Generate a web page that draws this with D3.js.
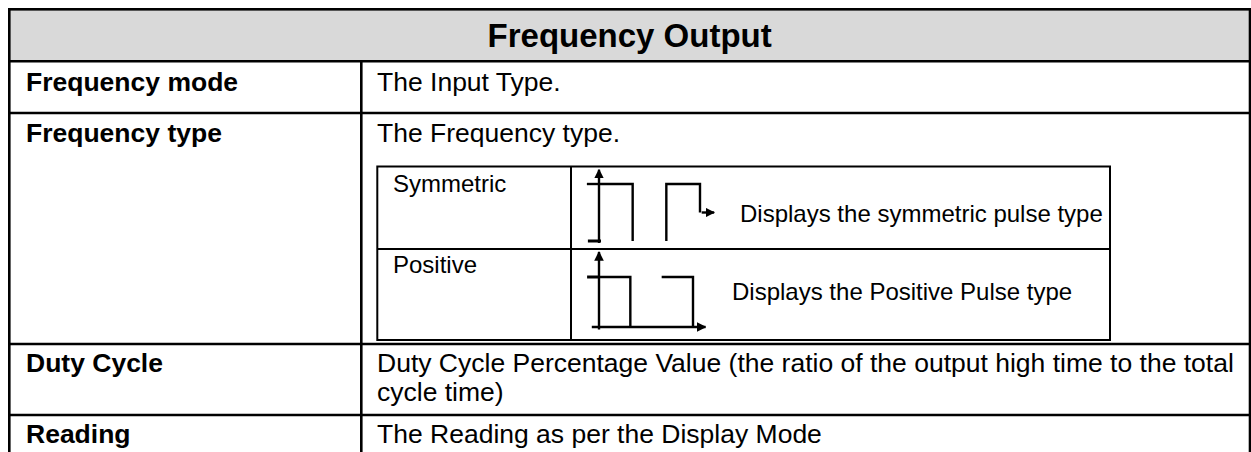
<!DOCTYPE html>
<html>
<head>
<meta charset="utf-8">
<script src="https://cdn.jsdelivr.net/npm/d3@7"></script>
<style>
  html, body { margin: 0; padding: 0; background: #ffffff; }
  svg { display: block; }
  text { font-family: "Liberation Sans", Arial, sans-serif; fill: #000; }
</style>
</head>
<body>
<script>
// ---------- data ----------
const title = "Frequency Output";
const rowLabels = ["Frequency mode", "Frequency type", "Duty Cycle", "Reading"];
const rowDescriptions = [
  ["The Input Type."],
  ["The Frequency type."],
  ["Duty Cycle Percentage Value (the ratio of the output high time to the total", "cycle time)"],
  ["The Reading as per the Display Mode"]
];
const pulseTypes = ["Symmetric", "Positive"];
const pulseDescriptions = ["Displays the symmetric pulse type", "Displays the Positive Pulse type"];

// waveform segments: [time, level]
const symmetricWave = [
  [[0, 1], [1, 1], [1, -1]],
  [[2, -1], [2, 1], [3, 1], [3, 0]]
];
const positiveWave = [
  [[0, 1], [1, 1], [1, 0]],
  [[2, 1], [3, 1], [3, 0]]
];

// ---------- layout ----------
const W = 1251, H = 452;
const svg = d3.select("body").append("svg").attr("width", W).attr("height", H);

const outer = { left: 9.3, right: 1250, top: 9.3, bottom: 470 };
const colX = 361.3;
const rowY = [61.2, 113, 344, 415];     // header bottom and row separators
const labelBaselines = [91, 142, 372, 443];
const descBaselines = [[91], [142], [372, 401], [443]];

// header fill
svg.append("rect")
  .attr("x", outer.left).attr("y", outer.top)
  .attr("width", outer.right - outer.left).attr("height", rowY[0] - outer.top)
  .attr("fill", "#d9d9d9");

svg.append("text")
  .attr("x", (outer.left + outer.right) / 2).attr("y", 46.5)
  .attr("text-anchor", "middle")
  .attr("font-size", 33).attr("font-weight", "bold")
  .text(title);

// row labels + descriptions
svg.selectAll("text.label").data(rowLabels).join("text")
  .attr("class", "label")
  .attr("x", 26).attr("y", (d, i) => labelBaselines[i])
  .attr("font-size", 26.5).attr("font-weight", "bold")
  .text(d => d);

rowDescriptions.forEach((lines, i) => {
  svg.selectAll(null).data(lines).join("text")
    .attr("x", 377).attr("y", (d, j) => descBaselines[i][j])
    .attr("font-size", 26.5)
    .text(d => d);
});

// ---------- grid lines ----------
const g = svg.append("g").attr("stroke", "#000").attr("fill", "none");
g.append("rect")
  .attr("x", outer.left).attr("y", outer.top)
  .attr("width", outer.right - outer.left).attr("height", outer.bottom - outer.top)
  .attr("stroke-width", 2.6);
rowY.forEach(y => g.append("line")
  .attr("x1", outer.left).attr("x2", outer.right).attr("y1", y).attr("y2", y)
  .attr("stroke-width", 2.6));
g.append("line").attr("x1", colX).attr("x2", colX).attr("y1", rowY[0]).attr("y2", outer.bottom)
  .attr("stroke-width", 2.6);

// ---------- inner table ----------
const inner = { left: 377.3, right: 1110, top: 166.5, bottom: 340, col: 571, mid: 249 };
g.append("rect")
  .attr("x", inner.left).attr("y", inner.top)
  .attr("width", inner.right - inner.left).attr("height", inner.bottom - inner.top)
  .attr("stroke-width", 2);
g.append("line").attr("x1", inner.left).attr("x2", inner.right).attr("y1", inner.mid).attr("y2", inner.mid)
  .attr("stroke-width", 2);
g.append("line").attr("x1", inner.col).attr("x2", inner.col).attr("y1", inner.top).attr("y2", inner.bottom)
  .attr("stroke-width", 2);

const typeBaselines = [192, 273];
svg.selectAll("text.ptype").data(pulseTypes).join("text")
  .attr("class", "ptype")
  .attr("x", 393).attr("y", (d, i) => typeBaselines[i])
  .attr("font-size", 24)
  .text(d => d);

const pdescX = [740, 732], pdescBaselines = [222, 300];
svg.selectAll("text.pdesc").data(pulseDescriptions).join("text")
  .attr("class", "pdesc")
  .attr("x", (d, i) => pdescX[i]).attr("y", (d, i) => pdescBaselines[i])
  .attr("font-size", 24)
  .text(d => d);

// ---------- pulse diagrams ----------
const defs = svg.append("defs");
defs.append("marker").attr("id", "arr")
  .attr("viewBox", "0 0 10 10").attr("refX", 9).attr("refY", 5)
  .attr("markerWidth", 4).attr("markerHeight", 4).attr("markerUnits", "strokeWidth")
  .attr("orient", "auto")
  .append("path").attr("d", "M0,0 L10,5 L0,10 Z").attr("fill", "#000");

const line = (xs, ys) => d3.line().x(d => xs(d[0])).y(d => ys(d[1]));

// symmetric
const sx = d3.scaleLinear().domain([0, 3]).range([599, 700]);
const sy = d3.scaleLinear().domain([-1, 1]).range([241, 184]);
const sg = svg.append("g").attr("stroke", "#000").attr("fill", "none").attr("stroke-width", 2.4);
sg.append("line").attr("x1", sx(0)).attr("x2", sx(0)).attr("y1", sy(-1.07)).attr("y2", sy(1.5))
  .attr("marker-end", "url(#arr)");
sg.append("line").attr("x1", sx(-0.36)).attr("x2", sx(0)).attr("y1", sy(1)).attr("y2", sy(1));
sg.append("line").attr("x1", sx(-0.33)).attr("x2", sx(0.06)).attr("y1", sy(-1)).attr("y2", sy(-1))
  .attr("stroke-width", 3);
symmetricWave.forEach(seg => sg.append("path").attr("d", line(sx, sy)(seg)));
sg.append("line").attr("x1", sx(3.05)).attr("x2", sx(3.42)).attr("y1", sy(0)).attr("y2", sy(0))
  .attr("marker-end", "url(#arr)");

// positive
const px = d3.scaleLinear().domain([0, 3]).range([599, 693]);
const py = d3.scaleLinear().domain([0, 1]).range([327, 277]);
const pg = svg.append("g").attr("stroke", "#000").attr("fill", "none").attr("stroke-width", 2.4);
pg.append("line").attr("x1", px(0)).attr("x2", px(0)).attr("y1", py(-0.05)).attr("y2", py(1.5))
  .attr("marker-end", "url(#arr)");
pg.append("line").attr("x1", px(-0.23)).attr("x2", px(3.4)).attr("y1", py(0)).attr("y2", py(0))
  .attr("marker-end", "url(#arr)");
pg.append("line").attr("x1", px(-0.38)).attr("x2", px(0)).attr("y1", py(1)).attr("y2", py(1))
  .attr("stroke-width", 3);
positiveWave.forEach(seg => pg.append("path").attr("d", line(px, py)(seg)));
</script>
</body>
</html>
